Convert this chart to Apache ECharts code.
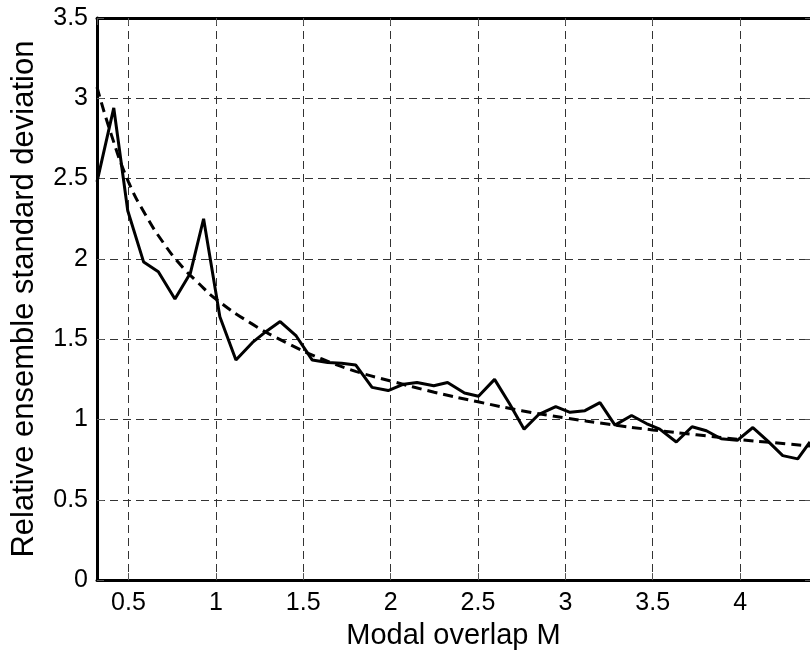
<!DOCTYPE html>
<html>
<head>
<meta charset="utf-8">
<script src="https://cdn.jsdelivr.net/npm/echarts@6/dist/echarts.min.js"></script>
<style>
  html, body { margin: 0; padding: 0; background: #fff; }
  #main { width: 810px; height: 655px; }
</style>
</head>
<body>
<div id="main"></div>
<script>
// measured curve: modal overlap M vs relative ensemble std deviation
var modalOverlap = [0.32, 0.416, 0.496, 0.587, 0.671, 0.766, 0.854, 0.930, 1.023, 1.115,
    1.21, 1.29, 1.368, 1.46, 1.552, 1.64, 1.72, 1.80, 1.894, 1.986,
    2.075, 2.151, 2.247, 2.326, 2.423, 2.503, 2.595, 2.68, 2.764, 2.846,
    2.945, 3.027, 3.112, 3.198, 3.284, 3.379, 3.464, 3.54, 3.635, 3.725,
    3.807, 3.892, 3.984, 4.073, 4.159, 4.244, 4.33, 4.40];
var stdDev = [2.48, 2.94, 2.30, 1.98, 1.92, 1.75, 1.91, 2.25, 1.64, 1.37,
    1.48, 1.55, 1.61, 1.52, 1.37, 1.355, 1.35, 1.34, 1.20, 1.18,
    1.22, 1.23, 1.21, 1.23, 1.165, 1.145, 1.25, 1.10, 0.94, 1.03,
    1.08, 1.045, 1.055, 1.105, 0.965, 1.025, 0.975, 0.94, 0.86, 0.955,
    0.93, 0.88, 0.87, 0.95, 0.865, 0.775, 0.755, 0.86];

// dashed theoretical curve
var fitM = [0.32, 0.4, 0.5, 0.6, 0.7, 0.8, 0.9, 1.0, 1.2, 1.4, 1.6, 1.8, 2.0,
    2.25, 2.5, 2.75, 3.0, 3.25, 3.5, 3.75, 4.0, 4.2, 4.4];
var fitStd = [3.07, 2.78, 2.48, 2.27, 2.10, 1.96, 1.85, 1.75, 1.60, 1.48, 1.38, 1.30, 1.24,
    1.17, 1.11, 1.055, 1.01, 0.97, 0.935, 0.905, 0.875, 0.855, 0.835];

var yTicks = [0, 0.5, 1, 1.5, 2, 2.5, 3, 3.5];

var mychart = echarts.init(document.getElementById('main'));

function pairs(xs, ys) {
    var out = [];
    for (var i = 0; i < xs.length; i++) out.push([xs[i], ys[i]]);
    return out;
}

var font = 'Liberation Sans, Arial, sans-serif';
var gridLine = { show: true, lineStyle: { color: '#333', width: 1, type: [8, 5] } };

option = {
    animation: false,
    grid: { left: 97, right: -2, top: 18, bottom: 74, containLabel: false },
    xAxis: [
        {
            type: 'value',
            min: 0.32,
            max: 4.4,
            splitNumber: 8,
            name: 'Modal overlap M',
            nameLocation: 'middle',
            nameGap: 34,
            nameTextStyle: { color: '#000', fontSize: 29, fontFamily: font },
            axisLine: { onZero: false, lineStyle: { color: '#000', width: 3 } },
            axisTick: { inside: true, length: 7, lineStyle: { color: '#555', width: 1 } },
            axisLabel: {
                color: '#000', fontSize: 25, fontFamily: font, margin: 11,
                showMinLabel: false, showMaxLabel: false
            },
            splitLine: gridLine
        },
        {
            type: 'value',
            position: 'top',
            min: 0.32,
            max: 4.4,
            splitNumber: 8,
            axisLine: { onZero: false, lineStyle: { color: '#000', width: 3 } },
            axisTick: { inside: true, length: 7, lineStyle: { color: '#555', width: 1 } },
            axisLabel: { show: false },
            splitLine: { show: false }
        }
    ],
    yAxis: [
        {
            type: 'value',
            min: yTicks[0],
            max: yTicks[yTicks.length - 1],
            interval: 0.5,
            name: 'Relative ensemble standard deviation',
            nameLocation: 'middle',
            nameGap: 57,
            nameTextStyle: { color: '#000', fontSize: 31, fontFamily: font },
            axisLine: { onZero: false, lineStyle: { color: '#000', width: 3 } },
            axisTick: { inside: true, length: 7, lineStyle: { color: '#555', width: 1 } },
            axisLabel: { color: '#000', fontSize: 25, fontFamily: font, margin: 9 },
            splitLine: gridLine
        },
        {
            type: 'value',
            position: 'right',
            min: yTicks[0],
            max: yTicks[yTicks.length - 1],
            interval: 0.5,
            axisLine: { show: false },
            axisTick: { show: true, inside: true, length: 5, lineStyle: { color: '#555', width: 1 } },
            axisLabel: { show: false },
            splitLine: { show: false }
        }
    ],
    series: [
        {
            name: 'ensemble',
            type: 'line',
            data: pairs(modalOverlap, stdDev),
            showSymbol: false,
            lineStyle: { color: '#000', width: 3 },
            z: 3
        },
        {
            name: 'theory',
            type: 'line',
            data: pairs(fitM, fitStd),
            smooth: true,
            showSymbol: false,
            lineStyle: { color: '#000', width: 3, type: [10, 6] },
            z: 4
        }
    ]
};
mychart.setOption(option);
</script>
</body>
</html>
